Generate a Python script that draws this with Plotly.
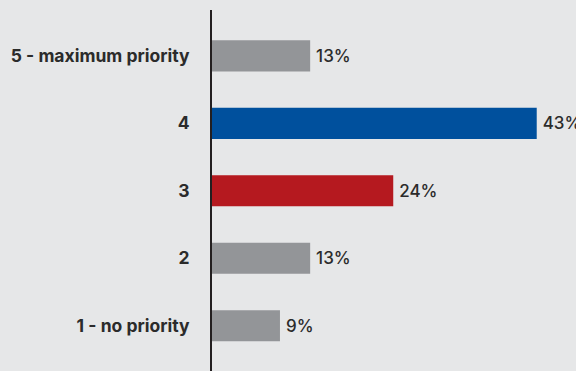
import plotly.graph_objects as go

# Survey responses: priority level and share of respondents (%)
categories = ["1 - no priority", "2", "3", "4", "5 - maximum priority"]
shares = [9, 13, 24, 43, 13]
bar_colors = ["#939598", "#939598", "#b5191f", "#00509d", "#939598"]

fig = go.Figure(
    go.Bar(
        x=shares,
        y=categories,
        orientation="h",
        marker=dict(color=bar_colors, line=dict(width=0)),
        width=0.46,
        # thin space keeps the value labels a little off the bar ends
        text=[f"\u2009{v}%" for v in shares],
        textposition="outside",
        cliponaxis=False,
        textfont=dict(family="Inter", size=17, color="#2b2b2b", weight=500),
        hoverinfo="skip",
    )
)

fig.update_layout(
    width=576,
    height=371,
    margin=dict(l=212, r=0, t=10, b=0),
    paper_bgcolor="#e6e7e8",
    plot_bgcolor="#e6e7e8",
    showlegend=False,
    bargap=0.54,
    uniformtext=dict(mode=False),
)

fig.update_xaxes(
    range=[0, 48.2],
    showgrid=False,
    zeroline=False,
    showticklabels=False,
    showline=False,
)

fig.update_yaxes(
    type="category",
    categoryorder="array",
    categoryarray=categories,
    range=[-0.67, 4.68],
    showgrid=False,
    zeroline=False,
    showline=True,
    linecolor="#231f20",
    linewidth=2,
    ticks="",
    ticklabelstandoff=17,
    tickfont=dict(family="Inter", size=17.5, color="#2b2b2b", weight=700),
)

fig.write_html("out.html")
